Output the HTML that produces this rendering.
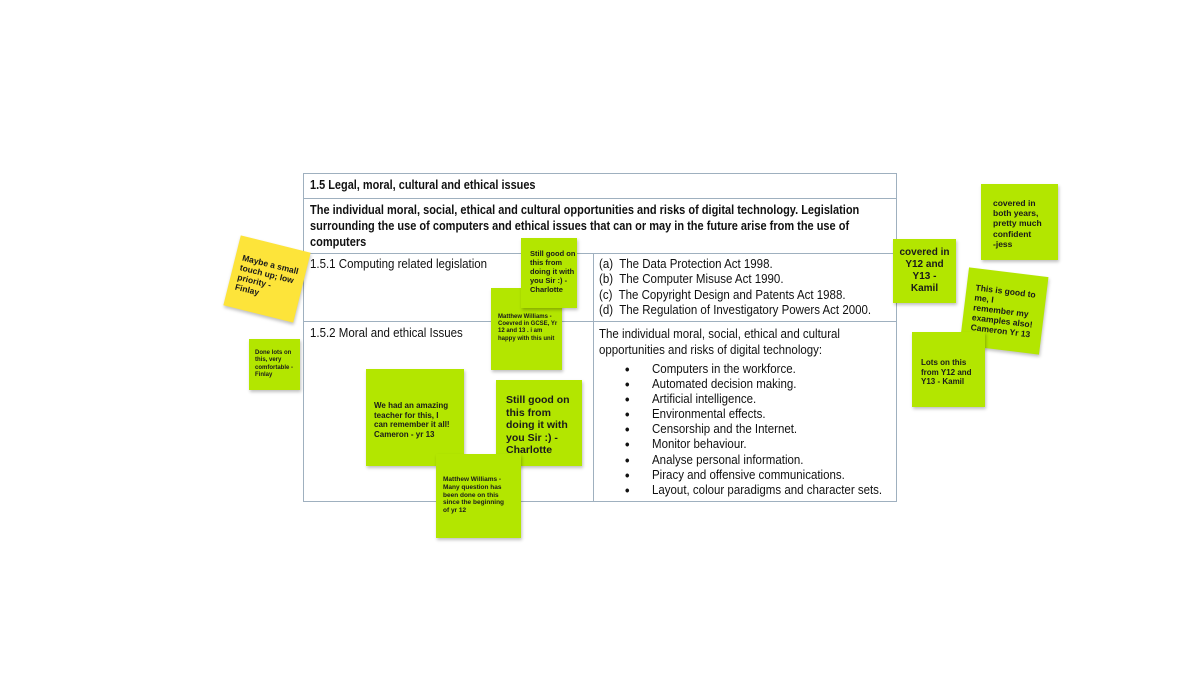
<!DOCTYPE html>
<html><head><meta charset="utf-8"><style>
body{margin:0;width:1200px;height:676px;background:#fff;position:relative;overflow:hidden;font-family:"Liberation Sans",sans-serif;}
.t{position:absolute;white-space:nowrap;color:#111;font-size:12.5px;transform:scaleX(0.92);transform-origin:left top;}
.b{font-weight:bold}
.line{position:absolute;background:#9fb0bf;}
.n{position:absolute;background:#b3e600;box-shadow:1px 2px 3px rgba(0,0,0,0.25);font-weight:bold;color:#1a1a1a;box-sizing:border-box;display:flex;align-items:center;white-space:nowrap;overflow:visible;}
.n div{line-height:1.2}
</style></head><body>
<div class="line" style="left:303px;top:173px;width:594px;height:1px"></div>
<div class="line" style="left:303px;top:198px;width:594px;height:1px"></div>
<div class="line" style="left:303px;top:253px;width:594px;height:1px"></div>
<div class="line" style="left:303px;top:321px;width:594px;height:1px"></div>
<div class="line" style="left:303px;top:501px;width:594px;height:1px"></div>
<div class="line" style="left:303px;top:173px;width:1px;height:329px"></div>
<div class="line" style="left:896px;top:173px;width:1px;height:329px"></div>
<div class="line" style="left:593px;top:253px;width:1px;height:249px"></div>

<div class="t b" style="left:310px;top:178px;transform:scaleX(0.875)">1.5 Legal, moral, cultural and ethical issues</div>
<div class="t b" style="left:310px;top:202px;line-height:16px;transform:scaleX(0.88)">The individual moral, social, ethical and cultural opportunities and risks of digital technology. Legislation<br>surrounding the use of computers and ethical issues that can or may in the future arise from the use of<br>computers</div>
<div class="t" style="left:310px;top:257px">1.5.1 Computing related legislation</div>
<div class="t" style="left:310px;top:326px">1.5.2 Moral and ethical Issues</div>
<div class="t" style="left:599px;top:257px;line-height:15.3px">(a)&nbsp; The Data Protection Act 1998.<br>(b)&nbsp; The Computer Misuse Act 1990.<br>(c)&nbsp; The Copyright Design and Patents Act 1988.<br>(d)&nbsp; The Regulation of Investigatory Powers Act 2000.</div>
<div class="t" style="left:599px;top:326px;line-height:16px">The individual moral, social, ethical and cultural<br>opportunities and risks of digital technology:</div>
<div class="t b" style="left:625px;top:362px;line-height:15.1px;font-size:14px">•<br>•<br>•<br>•<br>•<br>•<br>•<br>•<br>•</div>
<div class="t" style="left:652px;top:362px;line-height:15.1px">Computers in the workforce.<br>Automated decision making.<br>Artificial intelligence.<br>Environmental effects.<br>Censorship and the Internet.<br>Monitor behaviour.<br>Analyse personal information.<br>Piracy and offensive communications.<br>Layout, colour paradigms and character sets.</div>

<div class="n" style="left:231px;top:243px;width:72px;height:72px;background:#fde43a;transform:rotate(14deg);font-size:8.5px;padding-left:7px"><div>Maybe a small<br>touch up; low<br>priority -<br>Finlay</div></div>
<div class="n" style="left:249px;top:339px;width:51px;height:51px;font-size:6px;padding-left:6px"><div>Done lots on<br>this, very<br>comfortable -<br>Finlay</div></div>
<div class="n" style="left:491px;top:288px;width:71px;height:82px;font-size:6px;padding-left:7px;align-items:flex-start;padding-top:26px"><div>Matthew Williams -<br>Coevred in GCSE, Yr<br>12 and 13 . i am<br>happy with this unit</div></div>
<div class="n" style="left:521px;top:238px;width:56px;height:70px;font-size:7.5px;padding-left:9px;align-items:flex-start;padding-top:11px"><div>Still good on<br>this from<br>doing it with<br>you Sir :) -<br>Charlotte</div></div>
<div class="n" style="left:366px;top:369px;width:98px;height:97px;font-size:8px;padding-left:8px;align-items:flex-start;padding-top:32px"><div>We had an amazing<br>teacher for this, I<br>can remember it all!<br>Cameron - yr 13</div></div>
<div class="n" style="left:496px;top:380px;width:86px;height:86px;font-size:10.5px;padding-left:10px;align-items:flex-start;padding-top:14px"><div>Still good on<br>this from<br>doing it with<br>you Sir :) -<br>Charlotte</div></div>
<div class="n" style="left:436px;top:454px;width:85px;height:84px;font-size:6.5px;padding-left:7px;align-items:flex-start;padding-top:22px"><div>Matthew Williams -<br>Many question has<br>been done on this<br>since the beginning<br>of yr 12</div></div>
<div class="n" style="left:893px;top:239px;width:63px;height:64px;font-size:10px;justify-content:center;text-align:center"><div>covered in<br>Y12 and<br>Y13 -<br>Kamil</div></div>
<div class="n" style="left:981px;top:184px;width:77px;height:76px;font-size:8.5px;padding-left:12px;align-items:flex-start;padding-top:14px"><div>covered in<br>both years,<br>pretty much<br>confident<br>-jess</div></div>
<div class="n" style="left:964px;top:272px;width:80px;height:78px;font-size:8.5px;padding-left:9px;transform:rotate(7deg)"><div>This is good to<br>me, I<br>remember my<br>examples also!<br>Cameron Yr 13</div></div>
<div class="n" style="left:912px;top:332px;width:73px;height:75px;font-size:8px;padding-left:9px;align-items:flex-start;padding-top:26px"><div>Lots on this<br>from Y12 and<br>Y13 - Kamil</div></div>
</body></html>
